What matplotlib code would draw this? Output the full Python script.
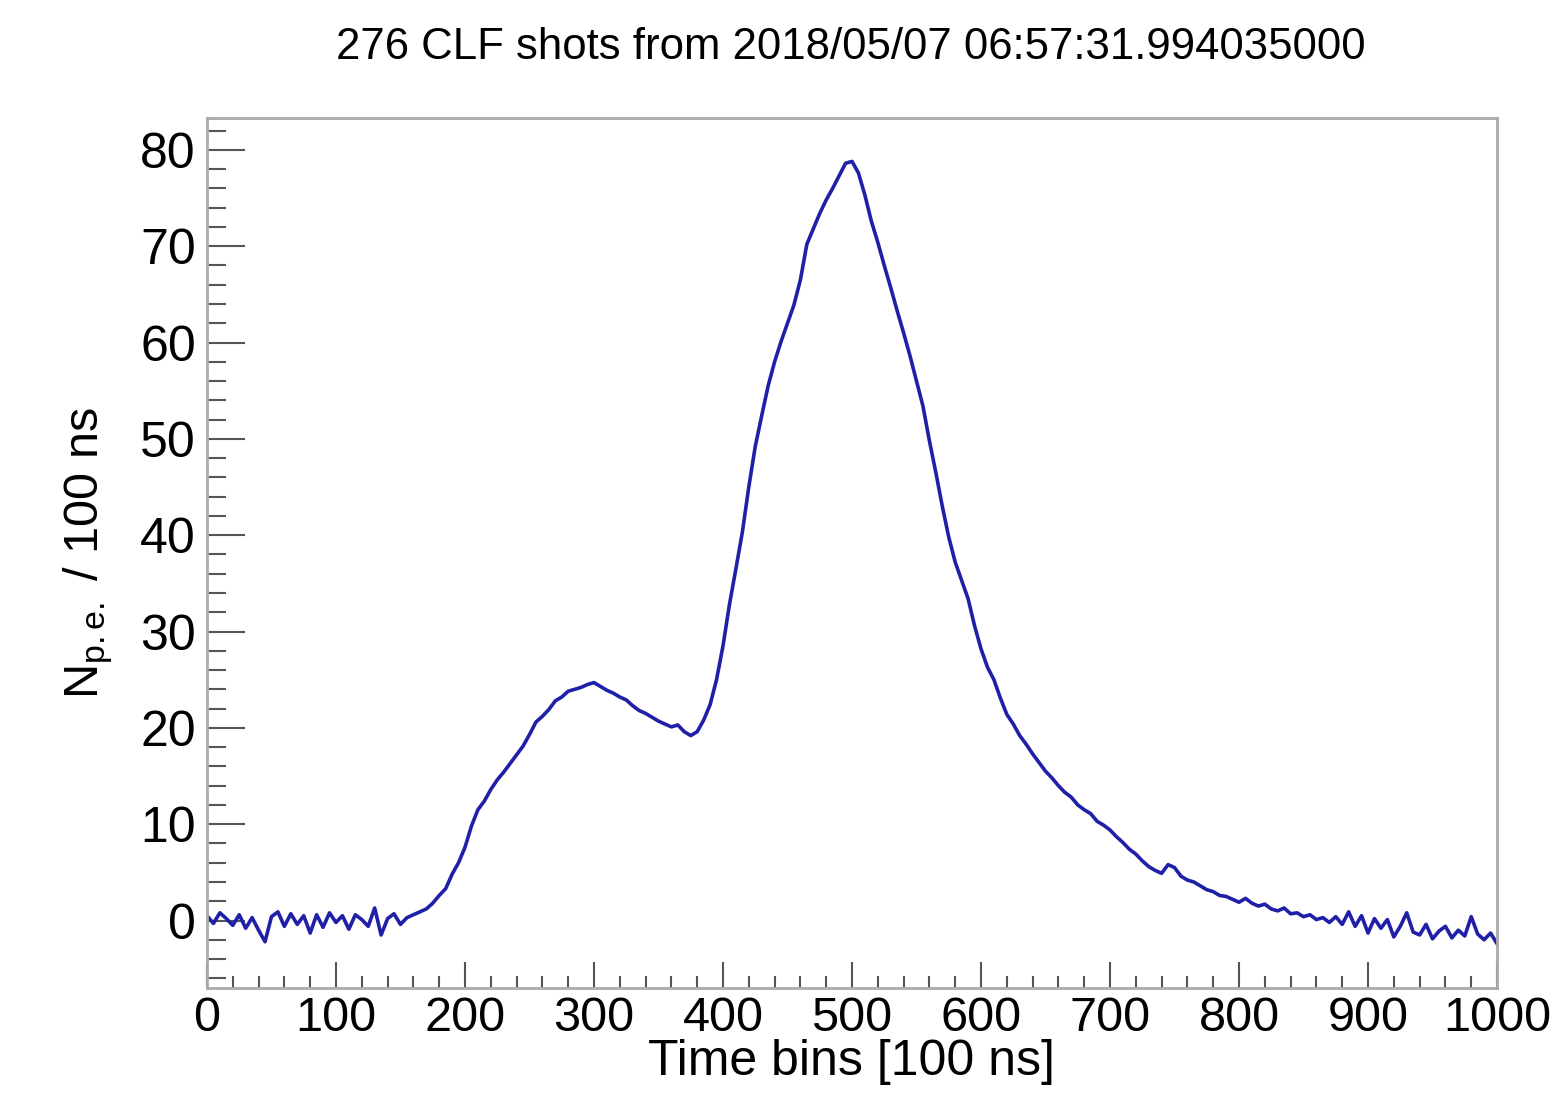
import numpy as np
import matplotlib.pyplot as plt
from matplotlib.ticker import MultipleLocator

# time bins (every 5th bin)
bins = np.arange(0, 1001, 5)
npe = [
    0.5, -0.3, 0.8, 0.2, -0.5, 0.6, -0.8, 0.3, -1.0, -2.2,
    0.4, 0.9, -0.6, 0.7, -0.4, 0.5, -1.3, 0.6, -0.7, 0.8,
    -0.2, 0.5, -0.9, 0.6, 0.1, -0.6, 1.3, -1.5, 0.2, 0.7,
    -0.4, 0.3, 0.6, 0.9, 1.2, 1.8, 2.6, 3.3, 4.8, 6.0,
    7.6, 9.8, 11.5, 12.4, 13.6, 14.6, 15.4, 16.3, 17.2, 18.1,
    19.3, 20.6, 21.2, 21.9, 22.8, 23.2, 23.8, 24.0, 24.2, 24.5,
    24.7, 24.3, 23.9, 23.6, 23.2, 22.9, 22.3, 21.8, 21.5, 21.1,
    20.7, 20.4, 20.1, 20.3, 19.6, 19.2, 19.6, 20.8, 22.4, 25.0,
    28.5, 32.8, 36.5, 40.3, 45.0, 49.2, 52.4, 55.5, 58.0, 60.1,
    62.0, 63.9, 66.5, 70.2, 71.8, 73.4, 74.8, 76.0, 77.3, 78.6,
    78.8, 77.6, 75.3, 72.6, 70.4, 68.0, 65.7, 63.3, 61.0, 58.6,
    56.0, 53.4, 49.8, 46.5, 43.0, 39.8, 37.2, 35.3, 33.4, 30.6,
    28.2, 26.3, 25.0, 23.1, 21.4, 20.4, 19.2, 18.3, 17.3, 16.4,
    15.5, 14.8, 14.0, 13.3, 12.8, 12.0, 11.5, 11.1, 10.3, 9.9,
    9.4, 8.7, 8.1, 7.4, 6.9, 6.2, 5.6, 5.2, 4.9, 5.8,
    5.5, 4.6, 4.2, 4.0, 3.6, 3.2, 3.0, 2.6, 2.5, 2.2,
    1.9, 2.3, 1.8, 1.5, 1.7, 1.2, 1.0, 1.3, 0.7, 0.8,
    0.4, 0.6, 0.1, 0.3, -0.2, 0.4, -0.4, 0.9, -0.6, 0.5,
    -1.3, 0.2, -0.8, 0.1, -1.7, -0.6, 0.8, -1.2, -1.5, -0.4,
    -1.9, -1.1, -0.6, -1.8, -1.0, -1.6, 0.4, -1.4, -2.0, -1.3,
    -2.4,
]

title = "276 CLF shots from 2018/05/07 06:57:31.994035000"

plt.rcParams['font.family'] = ['Liberation Sans', 'DejaVu Sans']
plt.rcParams['mathtext.fontset'] = 'custom'
plt.rcParams['mathtext.rm'] = 'Liberation Sans'
plt.rcParams['mathtext.it'] = 'Liberation Sans:italic'

fig = plt.figure(figsize=(15.62, 10.93), dpi=100)
ax = fig.add_axes([0.1325, 0.0961, 0.8259, 0.7959])

ax.plot(bins, npe, color='#1f1fa8', linewidth=2.6)

ax.set_xlim(0, 1000)
ax.set_ylim(-7, 83.3)

ax.xaxis.set_major_locator(MultipleLocator(100))
ax.xaxis.set_minor_locator(MultipleLocator(20))
ax.yaxis.set_major_locator(MultipleLocator(10))
ax.yaxis.set_minor_locator(MultipleLocator(2))

ax.tick_params(axis='both', which='both', direction='in', top=False, right=False,
               color='#555555', width=1.5)
ax.tick_params(axis='y', which='major', length=27, labelsize=36, pad=8)
ax.tick_params(axis='y', which='minor', length=14)
ax.tick_params(axis='x', which='major', length=19, labelsize=35, pad=6)
ax.tick_params(axis='x', which='minor', length=9)

for s in ax.spines.values():
    s.set_color('#aaaaaa')
    s.set_linewidth(2)

ax.set_xlabel("Time bins [100 ns]", fontsize=36, labelpad=-2)
ax.set_ylabel(r"N$_{\rm p.e.}$ / 100 ns", fontsize=35, labelpad=18)
fig.suptitle(title, fontsize=31.5, x=0.545, y=0.975)

plt.savefig("out.png", dpi=100)
